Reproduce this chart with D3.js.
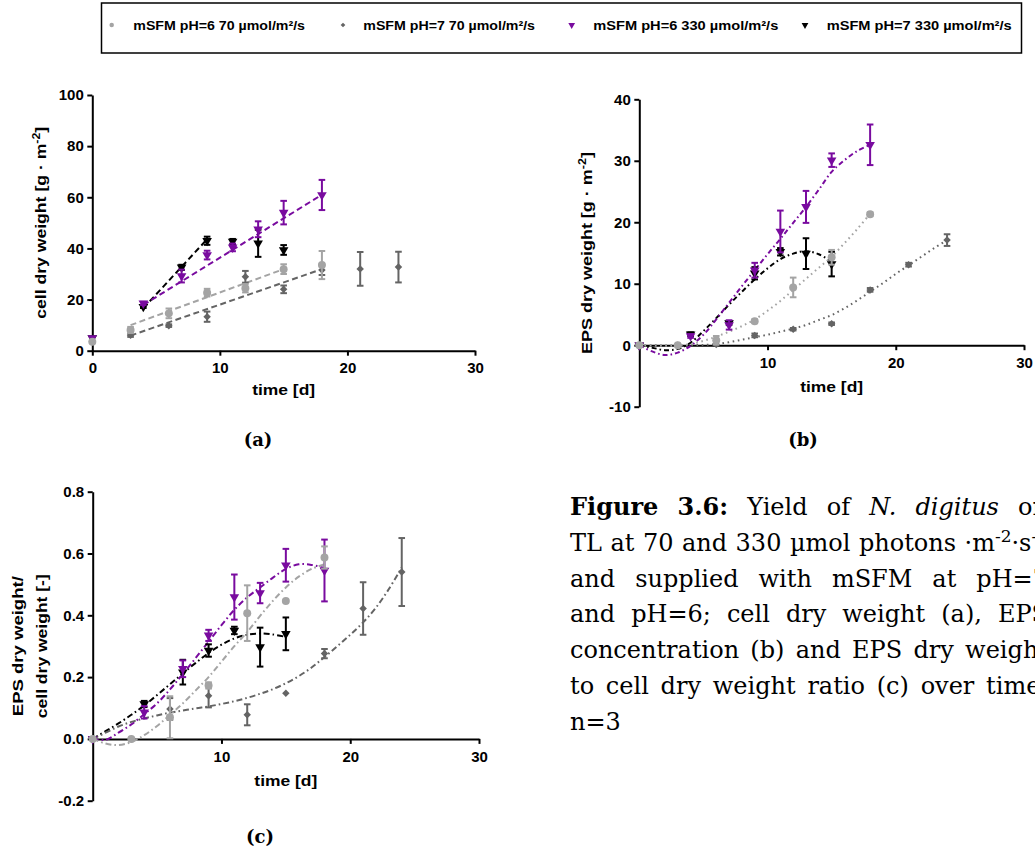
<!DOCTYPE html>
<html><head><meta charset="utf-8">
<script src="https://cdn.jsdelivr.net/npm/d3@7"></script>
<style>html,body{margin:0;padding:0;background:#fff}svg{display:block}</style>
</head><body>
<svg id="fig" width="1035" height="855"></svg>
<script>
// ---------------- DATA ----------------
const seriesNames = ["mSFM pH=6 70 µmol/m²/s", "mSFM pH=7 70 µmol/m²/s", "mSFM pH=6 330 µmol/m²/s", "mSFM pH=7 330 µmol/m²/s"];

// sampling days per series
const daysLG = [0, 3, 6, 9, 12, 15, 18];
const daysDG = [0, 3, 6, 9, 12, 15, 18, 21, 24];
const daysPU = [0, 4, 7, 9, 11, 13, 15, 18];
const daysBK = [0, 4, 7, 9, 11, 13, 15];

// (a) cell dry weight [g m-2]
const cellLG = [3.5, 8.1, 14.6, 22.7, 24.4, 31.9, 33.5];
const cellLGsd = [0, 1.2, 1.9, 1.5, 1.6, 1.9, 5.5];
const cellDG = [3.5, 6.0, 9.8, 13.3, 28.9, 24.0, 31.6, 32.0, 32.7];
const cellDGsd = [0, 0.6, 0.5, 2.0, 2.3, 1.5, 2.0, 6.6, 6.0];
const cellPU = [5.0, 18.5, 29.2, 37.4, 40.4, 47.5, 54.0, 60.9];
const cellPUsd = [0, 0.6, 2.5, 1.7, 1.5, 3.1, 4.6, 5.9];
const cellBK = [5.0, 17.2, 32.6, 43.0, 42.7, 42.0, 39.4];
const cellBKsd = [0, 0.5, 1.0, 1.6, 1.0, 5.3, 1.9];
// (a) linear regression lines (end points)
const cellFitDaysLG = [3, 15], cellFitLG = [10.0, 31.9];
const cellFitDaysDG = [3, 18], cellFitDG = [5.9, 31.9];
const cellFitDaysPU = [4, 18], cellFitPU = [17.9, 61.0];
const cellFitDaysBK = [4, 9],  cellFitBK = [16.6, 43.6];

// (b) EPS dry weight [g m-2]
const epsLG = [0, 0, 0.8, 3.9, 9.4, 14.3, 21.3];
const epsLGsd = [0, 0, 0.7, 0.3, 1.6, 1.2, 0.3];
const epsDG = [0, 0, 0.1, 1.6, 2.6, 3.5, 9.0, 13.1, 17.1];
const epsDGsd = [0, 0, 0, 0.3, 0.2, 0.2, 0.3, 0.3, 0.95];
const epsPU = [0, 1.5, 3.3, 12.2, 18.5, 22.5, 30.1, 32.6];
const epsPUsd = [0, 0.3, 0.76, 1.2, 3.4, 2.6, 1.1, 3.3];
const epsBK = [0, 1.8, 3.6, 11.7, 15.2, 14.9, 13.2];
const epsBKsd = [0, 0.3, 0.3, 1.0, 0.6, 2.5, 2.0];
// (b) fitted curves
const epsFitDaysLG = [0,1,2,3,4,5,6,7,8,9,10,11,12,13,14,15,16,17,18];
const epsFitLG = [0,-0.05,-0.1,-0.05,0.2,0.7,1.4,2.2,3.1,4.2,5.6,7.2,9.0,10.8,12.6,14.4,16.6,18.9,21.4];
const epsFitDaysDG = [0,1,2,3,4,5,6,7,8,9,10,11,12,13,14,15,16,17,18,19,20,21,22,23,24];
const epsFitDG = [0,0,-0.05,-0.05,0,0.05,0.2,0.5,0.9,1.3,1.7,2.2,2.7,3.3,4.1,4.9,6.0,7.3,8.7,10.1,11.6,13.0,14.4,15.8,17.1];
const epsFitDaysPU = [0,1,2,3,4,5,6,7,8,9,10,11,12,13,14,15,16,17,18];
const epsFitPU = [0,-1.0,-1.6,-1.2,-0.1,1.7,4.2,6.9,9.6,12.2,14.8,17.3,19.9,22.5,25.3,28.2,30.1,31.6,32.6];
const epsFitDaysBK = [0,1,2,3,4,5,6,7,8,9,10,11,12,13,14,15];
const epsFitBK = [0,-0.4,-0.8,-0.6,0.4,2.3,4.4,6.6,8.7,10.7,12.5,14.0,14.9,15.3,14.8,13.6];

// (c) EPS / cell dry weight [-]
const ratioLG = [0, 0, 0.07, 0.173, 0.407, 0.446, 0.587];
const ratioLGsd = [0, 0, 0.068, 0.01, 0.09, 0, 0.036];
const ratioDG = [0, 0, 0.097, 0.14, 0.078, 0.148, 0.276, 0.422, 0.54];
const ratioDGsd = [0, 0, 0.035, 0.038, 0.034, 0, 0.015, 0.085, 0.11];
const ratioPU = [0, 0.086, 0.227, 0.335, 0.459, 0.472, 0.562, 0.545];
const ratioPUsd = [0, 0.02, 0.027, 0.018, 0.073, 0.033, 0.053, 0.1];
const ratioBK = [0, 0.113, 0.216, 0.286, 0.351, 0.297, 0.34];
const ratioBKsd = [0, 0.01, 0.04, 0.02, 0.012, 0.063, 0.053];
// (c) fitted curves
const ratioFitDaysLG = [0,1,2,3,4,5,6,7,8,9,10,11,12,13,14,15,16,17,18];
const ratioFitLG = [0,-0.015,-0.02,-0.01,0.012,0.042,0.078,0.115,0.157,0.2,0.25,0.3,0.346,0.398,0.447,0.49,0.525,0.55,0.565];
const ratioFitDaysDG = [0,1,2,3,4,5,6,7,8,9,10,11,12,13,14,15,16,17,18,19,20,21,22,23,24];
const ratioFitDG = [0,0.02,0.04,0.055,0.066,0.076,0.085,0.092,0.099,0.105,0.113,0.122,0.133,0.146,0.161,0.18,0.203,0.231,0.265,0.3,0.337,0.377,0.425,0.485,0.555];
const ratioFitDaysPU = [0,1,2,3,4,5,6,7,8,9,10,11,12,13,14,15,16,17,18];
const ratioFitPU = [0,-0.003,0.02,0.047,0.08,0.115,0.16,0.21,0.262,0.315,0.368,0.418,0.458,0.49,0.522,0.55,0.565,0.563,0.553];
const ratioFitDaysBK = [0,1,2,3,4,5,6,7,8,9,10,11,12,13,14,15];
const ratioFitBK = [0,0.025,0.05,0.078,0.108,0.142,0.177,0.212,0.246,0.278,0.305,0.325,0.337,0.341,0.338,0.33];

// axis ticks
const xTicksA = [0, 10, 20, 30], xLabelsA = ["0", "10", "20", "30"];
const yTicksA = [0, 20, 40, 60, 80, 100], yLabelsA = ["0", "20", "40", "60", "80", "100"];
const xTicksB = [10, 20, 30], xLabelsB = ["10", "20", "30"];
const yTicksB = [-10, 0, 10, 20, 30, 40], yLabelsB = ["-10", "0", "10", "20", "30", "40"];
const xTicksC = [10, 20, 30], xLabelsC = ["10", "20", "30"];
const yTicksC = [-0.2, 0, 0.2, 0.4, 0.6, 0.8], yLabelsC = ["-0.2", "0.0", "0.2", "0.4", "0.6", "0.8"];

// ---------------- STYLE ----------------
const SANS = "'Liberation Sans', Arial, Helvetica, sans-serif";
const SERIF = "'DejaVu Serif', serif";
const COL = {LG: "#a4a4a4", DG: "#646464", PU: "#790b9f", BK: "#000000"};
const SYM = {
  LG: {type: d3.symbolCircle, size: 50, rot: 0, lsize: 16},
  DG: {type: d3.symbolSquare, size: 28, rot: 45, lsize: 11},
  PU: {type: d3.symbolTriangle, size: 40, rot: 180, lsize: 20},
  BK: {type: d3.symbolTriangle, size: 40, rot: 180, lsize: 20}
};
const KEYS = ["LG", "DG", "PU", "BK"];
const DRAW_ORDER = ["BK", "PU", "DG", "LG"];

const svg = d3.select("#fig");

function drawPanel(p) {
  const x = d3.scaleLinear().domain(p.xDomain).range(p.xRange);
  const y = d3.scaleLinear().domain(p.yDomain).range(p.yRange);
  const g = svg.append("g");

  // axes
  const ax = g.append("g").attr("transform", `translate(0,${y(0)})`)
    .call(d3.axisBottom(x).tickValues(p.xTicks).tickFormat((d, i) => p.xLabels[i])
      .tickSize(5).tickSizeOuter(0).tickPadding(7));
  const ay = g.append("g").attr("transform", `translate(${x(0)},0)`)
    .call(d3.axisLeft(y).tickValues(p.yTicks).tickFormat((d, i) => p.yLabels[i])
      .tickSize(5).tickSizeOuter(0).tickPadding(3.5));
  [ax, ay].forEach(a => {
    a.select(".domain").attr("stroke", "#000").attr("stroke-width", 2);
    a.selectAll(".tick line").attr("stroke", "#000").attr("stroke-width", 2);
    a.selectAll(".tick text").attr("font-family", SANS).attr("font-size", 15)
      .attr("font-weight", "bold").attr("fill", "#000");
  });

  // fitted lines
  const line = d3.line().x(d => x(d[0])).y(d => y(d[1]));
  DRAW_ORDER.forEach(k => {
    const f = p.fits[k];
    g.append("path").datum(d3.zip(f.t, f.v))
      .attr("d", line.curve(p.curve)).attr("fill", "none")
      .attr("stroke", COL[k]).attr("stroke-width", 2)
      .attr("stroke-dasharray", p.dash[k]);
  });

  // error bars + markers
  DRAW_ORDER.forEach(k => {
    const s = p.series[k];
    const pts = d3.zip(s.t, s.v, s.e);
    const eg = g.append("g").attr("stroke", COL[k]).attr("stroke-width", 2);
    pts.filter(d => d[2] > 0).forEach(d => {
      const cx = x(d[0]), y1 = y(d[1] + d[2]), y2 = y(d[1] - d[2]);
      eg.append("line").attr("x1", cx).attr("x2", cx).attr("y1", y1).attr("y2", y2);
      eg.append("line").attr("x1", cx - 3.3).attr("x2", cx + 3.3).attr("y1", y1).attr("y2", y1);
      eg.append("line").attr("x1", cx - 3.3).attr("x2", cx + 3.3).attr("y1", y2).attr("y2", y2);
    });
    g.append("g").selectAll("path").data(pts).join("path")
      .attr("transform", d => `translate(${x(d[0])},${y(d[1])}) rotate(${SYM[k].rot})`)
      .attr("d", d3.symbol(SYM[k].type, SYM[k].size)())
      .attr("fill", COL[k]);
  });

  // x title
  g.append("text").attr("x", (p.xRange[0] + p.xRange[1]) / 2).attr("y", y(0) + p.xTitleDy)
    .attr("text-anchor", "middle").attr("font-family", SANS).attr("font-weight", "bold")
    .attr("font-size", 15).attr("textLength", 63).attr("lengthAdjust", "spacingAndGlyphs")
    .text("time [d]");

  // y title lines
  const cy = (p.yRange[0] + p.yRange[1]) / 2;
  p.yTitle.forEach(t => {
    const tx = g.append("text").attr("transform", `translate(${t.bx},${cy}) rotate(-90)`)
      .attr("text-anchor", "middle").attr("font-family", SANS).attr("font-weight", "bold")
      .attr("font-size", 15).attr("textLength", t.len).attr("lengthAdjust", "spacingAndGlyphs");
    tx.append("tspan").text(t.text);
    if (t.sup) {
      tx.append("tspan").attr("dy", -6).attr("font-size", 10.5).text(t.sup);
      tx.append("tspan").attr("dy", 6).text("]");
    }
  });
}

function mk(t, v, e) { return {t, v, e}; }
function fit(t, v) { return {t, v}; }

// Panel (a)
drawPanel({
  xDomain: [0, 30], xRange: [92.3, 475], yDomain: [0, 100], yRange: [350.7, 95],
  xTicks: xTicksA, xLabels: xLabelsA, yTicks: yTicksA, yLabels: yLabelsA,
  series: {LG: mk(daysLG, cellLG, cellLGsd), DG: mk(daysDG, cellDG, cellDGsd),
           PU: mk(daysPU, cellPU, cellPUsd), BK: mk(daysBK, cellBK, cellBKsd)},
  fits: {LG: fit(cellFitDaysLG, cellFitLG), DG: fit(cellFitDaysDG, cellFitDG),
         PU: fit(cellFitDaysPU, cellFitPU), BK: fit(cellFitDaysBK, cellFitBK)},
  curve: d3.curveLinear,
  dash: {LG: "6,3.5", DG: "6,3.5", PU: "6,3.5", BK: "6,3.5"},
  xTitleDy: 44,
  yTitle: [{bx: 45.5, len: 192, text: "cell dry weight [g · m", sup: "-2"}]
});

// Panel (b)
drawPanel({
  xDomain: [0, 30], xRange: [639.3, 1024], yDomain: [-10, 40], yRange: [406.7, 99.3],
  xTicks: xTicksB, xLabels: xLabelsB, yTicks: yTicksB, yLabels: yLabelsB,
  series: {LG: mk(daysLG, epsLG, epsLGsd), DG: mk(daysDG, epsDG, epsDGsd),
           PU: mk(daysPU, epsPU, epsPUsd), BK: mk(daysBK, epsBK, epsBKsd)},
  fits: {LG: fit(epsFitDaysLG, epsFitLG), DG: fit(epsFitDaysDG, epsFitDG),
         PU: fit(epsFitDaysPU, epsFitPU), BK: fit(epsFitDaysBK, epsFitBK)},
  curve: d3.curveCatmullRom.alpha(0.5),
  dash: {LG: "1.6,3.6", DG: "1.6,3.6", PU: "5,3,1.6,3", BK: "5,3,1.6,3"},
  xTitleDy: 46.7,
  yTitle: [{bx: 591.7, len: 202, text: "EPS dry weight [g · m", sup: "-2"}]
});

// Panel (c)
drawPanel({
  xDomain: [0, 30], xRange: [92.7, 479], yDomain: [-0.2, 0.8], yRange: [800.7, 491.7],
  xTicks: xTicksC, xLabels: xLabelsC, yTicks: yTicksC, yLabels: yLabelsC,
  series: {LG: mk(daysLG, ratioLG, ratioLGsd), DG: mk(daysDG, ratioDG, ratioDGsd),
           PU: mk(daysPU, ratioPU, ratioPUsd), BK: mk(daysBK, ratioBK, ratioBKsd)},
  fits: {LG: fit(ratioFitDaysLG, ratioFitLG), DG: fit(ratioFitDaysDG, ratioFitDG),
         PU: fit(ratioFitDaysPU, ratioFitPU), BK: fit(ratioFitDaysBK, ratioFitBK)},
  curve: d3.curveCatmullRom.alpha(0.5),
  dash: {LG: "6,3,1.6,3", DG: "6,3,1.6,3", PU: "6,3,1.6,3", BK: "6,3,1.6,3"},
  xTitleDy: 46.7,
  yTitle: [{bx: 22.5, len: 140, text: "EPS dry weight/"}, {bx: 46.5, len: 144, text: "cell dry weight [-]"}]
});

// ---------------- LEGEND ----------------
const lg = svg.append("g");
lg.append("rect").attr("x", 101.5).attr("y", 3).attr("width", 920).attr("height", 50)
  .attr("fill", "none").attr("stroke", "#000").attr("stroke-width", 1.5);
const legMarkX = [111.7, 343, 571.7, 805];
const legTextX = [133.3, 363.3, 593.3, 826.7];
const legTextW = [171.7, 171.7, 185, 185];
KEYS.forEach((k, i) => {
  lg.append("path").attr("transform", `translate(${legMarkX[i]},25) rotate(${SYM[k].rot})`)
    .attr("d", d3.symbol(SYM[k].type, SYM[k].lsize)()).attr("fill", COL[k]);
  lg.append("text").attr("x", legTextX[i]).attr("y", 29.5)
    .attr("font-family", SANS).attr("font-weight", "bold").attr("font-size", 12)
    .attr("textLength", legTextW[i]).attr("lengthAdjust", "spacingAndGlyphs")
    .text(seriesNames[i]);
});

// ---------------- SUB-CAPTIONS ----------------
[["(a)", 258, 446], ["(b)", 803, 446], ["(c)", 260, 843]].forEach(([t, cx, by]) => {
  svg.append("text").attr("x", cx).attr("y", by).attr("text-anchor", "middle")
    .attr("font-family", SERIF).attr("font-weight", "bold").attr("font-size", 18).text(t);
});

// ---------------- FIGURE CAPTION (justified, runs past the right page edge as in the source) ----------------
const capX0 = 570, capR = 1048, capY0 = 515, capLH = 35.8;
const captionLines = [
  [[["Figure", "b"]], [["3.6:", "b"]], [["Yield", ""]], [["of", ""]], [["N.", "i"]], [["digitus", "i"]], [["on", ""]]],
  [[["TL", ""]], [["at", ""]], [["70", ""]], [["and", ""]], [["330", ""]], [["µmol", ""]], [["photons", ""]],
   [["·m", ""], ["-2", "sup"], ["·s", ""], ["-1", "sup"]]],
  [[["and", ""]], [["supplied", ""]], [["with", ""]], [["mSFM", ""]], [["at", ""]], [["pH=7", ""]]],
  [[["and", ""]], [["pH=6;", ""]], [["cell", ""]], [["dry", ""]], [["weight", ""]], [["(a),", ""]], [["EPS", ""]]],
  [[["concentration", ""]], [["(b)", ""]], [["and", ""]], [["EPS", ""]], [["dry", ""]], [["weight", ""]]],
  [[["to", ""]], [["cell", ""]], [["dry", ""]], [["weight", ""]], [["ratio", ""]], [["(c)", ""]], [["over", ""]], [["time,", ""]]],
  [[["n=3", ""]]]
];
captionLines.forEach((words, li) => {
  const by = capY0 + li * capLH;
  const nodes = words.map(parts => {
    const t = svg.append("text").attr("y", by).attr("font-family", SERIF).attr("font-size", 24).attr("fill", "#000");
    let raised = false;
    parts.forEach(([s, st]) => {
      const sp = t.append("tspan").text(s);
      if (st === "b") sp.attr("font-weight", "bold");
      if (st === "i") sp.attr("font-style", "italic");
      if (st === "sup") { sp.attr("font-size", 17).attr("dy", raised ? 0 : -9); raised = true; }
      else if (raised) { sp.attr("dy", 9); raised = false; }
    });
    return t;
  });
  const widths = nodes.map(n => n.node().getComputedTextLength());
  const total = d3.sum(widths);
  const justify = li < captionLines.length - 1 && nodes.length > 1;
  const gap = justify ? (capR - capX0 - total) / (nodes.length - 1) : 7;
  let cx = capX0;
  nodes.forEach((n, i) => { n.attr("x", cx); cx += widths[i] + gap; });
});
</script>
</body></html>
